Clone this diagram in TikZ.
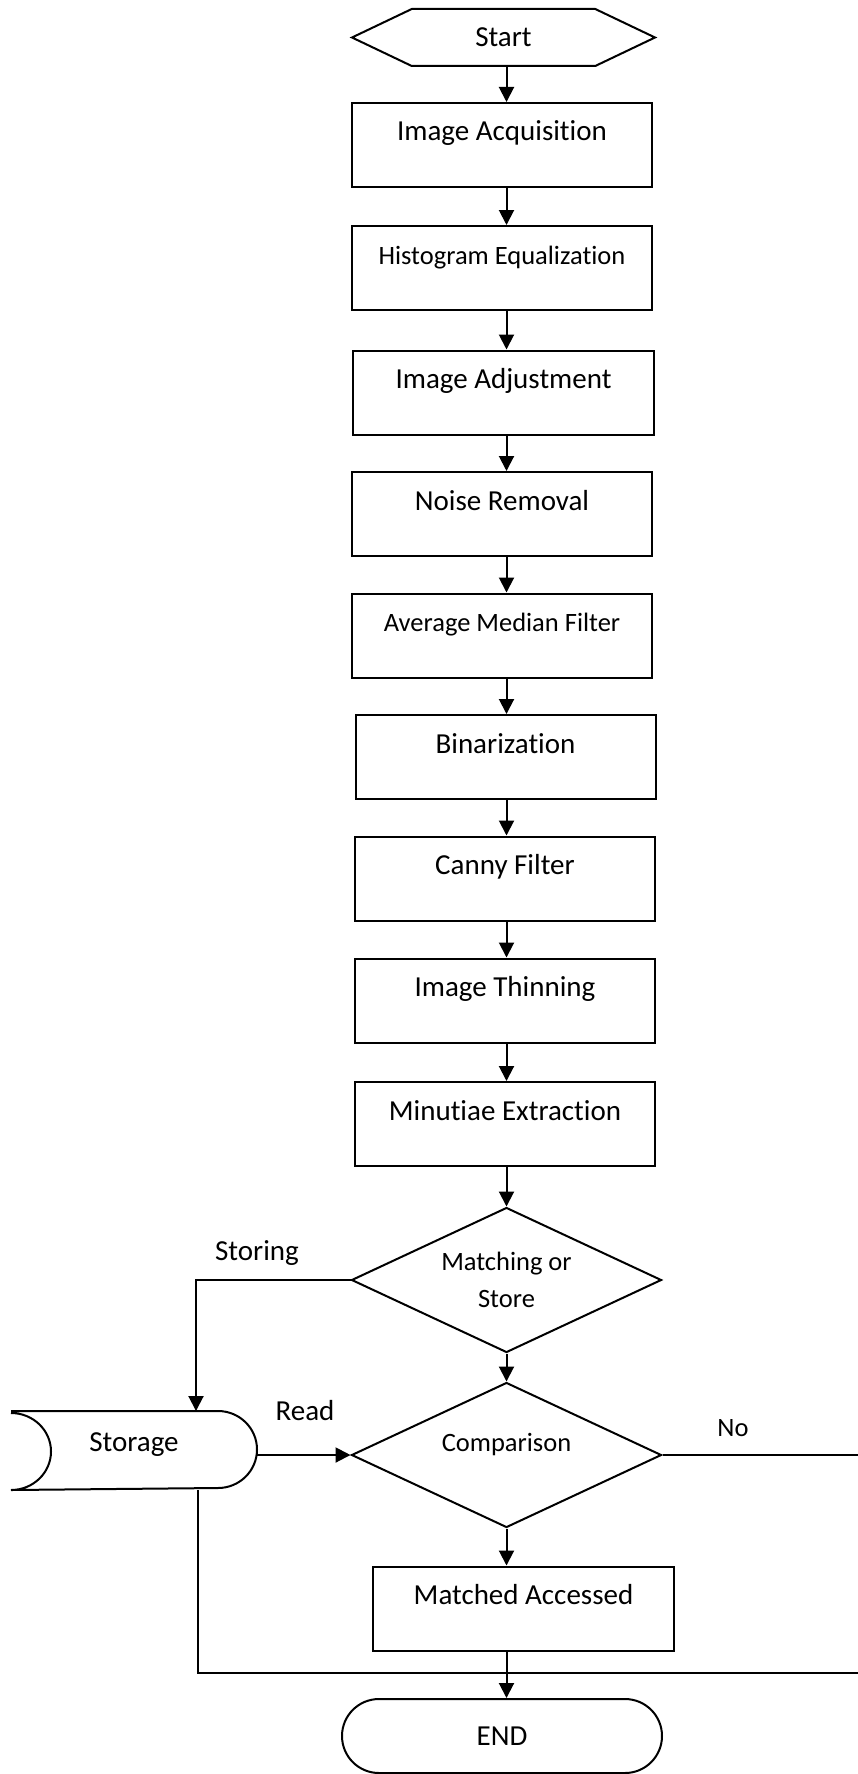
\documentclass[tikz,border=0pt]{standalone}
\usepackage{fontspec}
\setmainfont{Carlito}[Ligatures=NoCommon]
\usetikzlibrary{shapes.geometric,shapes.symbols,arrows.meta}
\newcommand{\bigtxt}{\fontsize{29}{35}\selectfont}
\newcommand{\smalltxt}{\fontsize{26.5}{37}\selectfont}
\begin{document}
\begin{tikzpicture}[x=1pt,y=1pt,line width=2pt]
\tikzstyle{arr}=[-{Triangle[length=15pt,width=15pt]}]
\tikzstyle{stepbox}=[draw, rectangle, minimum width=300pt, minimum height=84pt, inner sep=0pt, text height=38pt, text depth=46pt, font=\bigtxt]
\tikzstyle{decide}=[draw, diamond, aspect=2.14, minimum width=310pt, minimum height=145pt, inner sep=0pt, font=\smalltxt, align=center]
\useasboundingbox (0,0) rectangle (858,-1774);
%
\node[draw, signal, signal to=west and east, signal pointer angle=51, minimum width=303pt, minimum height=57pt, inner sep=0pt, font=\bigtxt] at (503.5,-37.5) (St) {Start};
\node[stepbox] at (502,-145) (IA) {Image Acquisition};
\node[stepbox, font=\smalltxt] at (502,-268) (HE) {Histogram Equalization};
\node[stepbox, minimum width=301pt] at (503.5,-392.5) (AD) {Image Adjustment};
\node[stepbox] at (502,-514) (NR) {Noise Removal};
\node[stepbox, font=\smalltxt] at (502,-635.5) (AM) {Average Median Filter};
\node[stepbox] at (505.5,-757) (BI) {Binarization};
\node[stepbox] at (505,-878.5) (CF) {Canny Filter};
\node[stepbox] at (505,-1000.5) (IT) {Image Thinning};
\node[stepbox] at (505,-1124) (ME) {Minutiae Extraction};
\node[decide] at (506.5,-1280) (MS) {Matching or\\Store};
\node[decide, text height=18pt, text depth=25pt] at (506.5,-1455) (C) {Comparison};
\node[stepbox, minimum width=301pt] at (523.5,-1608.5) (MA) {Matched Accessed};
\node[draw, rectangle, rounded corners=37pt, minimum width=320pt, minimum height=74pt, font=\bigtxt] at (502,-1736) (E) {END};
\node[minimum width=244pt, minimum height=77pt, inner sep=0pt, text height=19pt, text depth=18pt, font=\bigtxt] at (134,-1450.5) (D) {Storage};
\draw (D.north west) -- ([xshift=-39pt]D.north east) arc[start angle=90, end angle=-90, x radius=39pt, y radius=38.5pt] -- (D.south west) arc[start angle=-90, end angle=90, x radius=40pt, y radius=38.5pt];
%
\node[font=\bigtxt] at (257,-1253) (Ls) {Storing};
\node[font=\bigtxt] at (305,-1411) (Lr) {Read};
\node[font=\smalltxt] at (733,-1428) (Ln) {No};
\coordinate (R) at (858,-1673);
%
\foreach \a/\b in {St/IA, IA/HE, HE/AD, AD/NR, NR/AM, AM/BI, BI/CF, CF/IT, IT/ME, ME/MS, MS/C, C/MA, MA/E}
  \draw[arr] (\a.south -| C.south) -- (\b.north -| C.south);
\draw[arr] (MS.west) -| ([xshift=62pt]D.north);
\draw[arr] (D.east |- C.west) -- (C.west);
\draw (C.east) -- (C.east -| R);
\draw ([xshift=64pt]D.south) |- (R);
\end{tikzpicture}
\end{document}
